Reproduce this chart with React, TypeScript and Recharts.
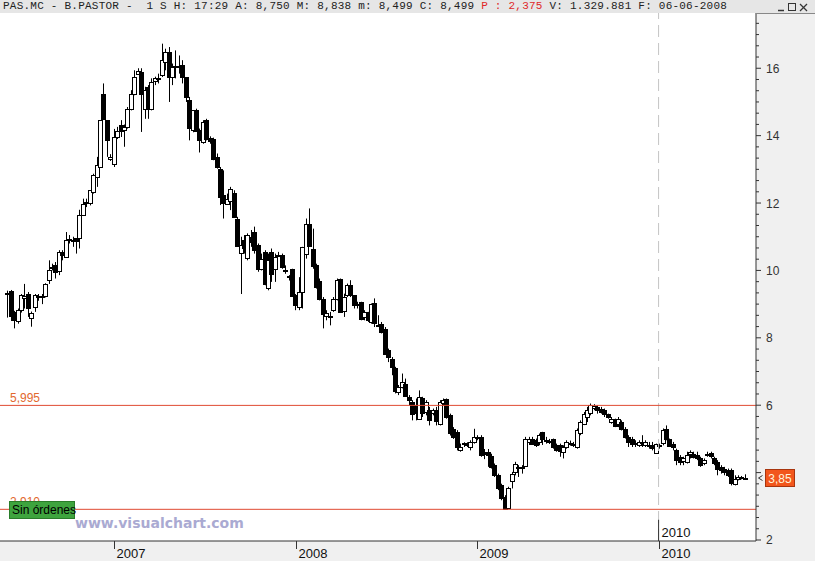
import React from 'react';
import { ComposedChart, Bar, XAxis, YAxis, ReferenceLine, CartesianGrid } from 'recharts';

// Weekly OHLC candles, PAS.MC (B. Pastor), mid-2006 .. mid-2010
const opens = [
  9.28, 9.4, 8.77, 8.52, 8.8, 9.2, 9.3, 8.6, 8.9, 9.22,
  9.25, 9.25, 9.7, 10.06, 10.15, 10.0, 10.55, 10.4, 10.88, 10.9,
  10.95, 10.95, 11.64, 12.0, 11.98, 12.33, 12.77, 13.07, 15.25, 14.46,
  13.32, 13.17, 13.96, 14.33, 14.16, 14.26, 14.8, 15.25, 15.84, 15.9,
  14.8, 15.45, 14.8, 15.6, 15.7, 15.8, 16.19, 16.49, 15.74, 16.04,
  16.06, 16.09, 15.74, 15.05, 14.16, 14.77, 14.16, 13.8, 14.46, 13.93,
  13.9, 13.37, 13.02, 12.23, 11.98, 12.08, 12.31, 11.54, 10.5, 10.9,
  10.36, 11.0, 11.14, 10.75, 10.05, 10.55, 9.46, 10.55, 10.05, 10.45,
  10.45, 10.0, 9.8, 10.05, 9.26, 8.92, 9.36, 10.5, 11.39, 10.65,
  10.15, 9.7, 9.16, 8.67, 8.62, 8.82, 9.16, 9.76, 8.77, 9.26,
  9.56, 9.26, 8.95, 9.06, 8.62, 8.77, 8.47, 9.02, 8.37, 8.42,
  8.27, 7.63, 7.38, 7.09, 6.4, 6.55, 6.62, 6.25, 6.1, 6.0,
  5.6, 6.2, 5.8, 5.85, 5.75, 5.87, 5.45, 6.05, 6.17, 5.7,
  5.3, 5.2, 4.68, 4.85, 4.86, 4.76, 4.9, 5.04, 5.06, 4.6,
  4.6, 4.5, 4.22, 3.92, 3.62, 3.28, 2.93, 3.77, 4.02, 4.15,
  4.16, 4.22, 4.92, 5.01, 4.96, 4.91, 5.21, 4.95, 4.93, 5.01,
  4.81, 4.81, 4.61, 4.76, 4.85, 4.84, 4.76, 5.16, 5.45, 5.65,
  5.75, 5.9, 5.95, 5.9, 5.87, 5.75, 5.5, 5.6, 5.45, 5.5,
  5.3, 5.06, 5.01, 4.87, 4.81, 4.9, 4.81, 4.82, 4.81, 4.6,
  4.8, 4.86, 5.3, 5.01, 4.86, 4.66, 4.47, 4.32, 4.32, 4.54,
  4.56, 4.52, 4.42, 4.27, 4.54, 4.57, 4.42, 4.32, 4.17, 4.12,
  4.07, 4.07, 3.67, 3.82, 3.86, 3.85,
];
const highs = [
  9.4, 9.42, 8.8, 8.87, 9.3, 9.6, 9.36, 8.78, 9.3, 9.3,
  9.3, 9.62, 10.3, 10.2, 10.25, 10.6, 10.6, 11.14, 11.05, 11.0,
  10.96, 11.8, 12.13, 12.13, 12.38, 12.87, 13.37, 14.46, 15.55, 14.46,
  13.45, 14.2, 14.26, 14.46, 14.33, 14.85, 15.35, 15.94, 16.0, 16.0,
  15.45, 15.5, 15.7, 15.75, 15.84, 16.73, 16.58, 16.63, 16.14, 16.53,
  16.38, 16.24, 15.74, 15.15, 14.75, 14.8, 14.21, 14.46, 14.5, 13.98,
  13.94, 13.47, 13.07, 12.97, 12.28, 12.48, 12.38, 11.59, 11.0, 11.05,
  11.1, 11.2, 11.3, 10.8, 10.5, 10.6, 10.5, 10.65, 10.5, 10.55,
  10.5, 10.15, 9.86, 10.05, 9.3, 9.8, 10.7, 11.54, 11.84, 11.24,
  10.2, 9.76, 9.21, 8.82, 8.77, 9.21, 9.76, 9.76, 9.31, 9.61,
  9.71, 9.26, 9.07, 9.07, 8.82, 8.77, 9.02, 9.17, 8.67, 8.47,
  8.32, 7.68, 7.43, 7.14, 6.6, 6.94, 6.79, 6.3, 6.15, 6.2,
  6.44, 6.25, 6.15, 5.95, 5.9, 5.95, 6.15, 6.2, 6.2, 5.75,
  5.35, 5.26, 4.86, 4.9, 4.9, 4.96, 5.3, 5.11, 5.11, 4.7,
  4.7, 4.56, 4.27, 3.97, 3.67, 3.33, 3.58, 4.02, 4.32, 4.22,
  4.22, 5.06, 5.06, 5.06, 5.01, 5.16, 5.21, 5.06, 5.0, 5.01,
  4.86, 4.86, 4.81, 4.96, 4.95, 4.91, 5.31, 5.55, 5.8, 5.95,
  6.05, 6.03, 6.0, 5.95, 5.9, 5.75, 5.65, 5.6, 5.65, 5.55,
  5.35, 5.11, 5.06, 4.96, 4.96, 5.11, 4.96, 4.91, 4.91, 4.86,
  4.86, 5.31, 5.4, 5.01, 4.91, 4.71, 4.52, 4.47, 4.62, 4.66,
  4.62, 4.62, 4.47, 4.42, 4.62, 4.62, 4.47, 4.37, 4.22, 4.17,
  4.12, 4.12, 3.92, 3.92, 3.9, 3.95,
];
const lows = [
  8.6, 8.5, 8.28, 8.42, 8.75, 8.87, 8.62, 8.33, 8.77, 9.1,
  9.0, 9.2, 9.6, 10.0, 9.76, 9.86, 10.3, 10.4, 10.8, 10.7,
  10.5, 10.65, 11.62, 11.88, 11.93, 12.28, 12.48, 13.07, 14.5, 13.37,
  13.25, 13.07, 13.9, 13.96, 13.67, 14.21, 14.75, 15.2, 15.8, 14.11,
  14.5, 14.5, 14.75, 15.5, 15.55, 15.74, 15.94, 15.0, 15.5, 15.7,
  15.84, 15.55, 15.0, 13.86, 14.1, 14.16, 13.5, 13.76, 13.86, 13.76,
  13.27, 13.02, 11.94, 11.54, 11.98, 11.79, 11.59, 10.7, 9.3, 10.5,
  10.3, 10.7, 10.5, 9.96, 10.0, 9.56, 9.41, 9.66, 9.66, 10.4,
  10.05, 9.9, 9.7, 9.26, 8.82, 8.82, 8.87, 10.35, 10.7, 10.05,
  9.46, 9.11, 8.28, 8.52, 8.37, 8.77, 9.11, 8.77, 8.62, 9.21,
  9.21, 8.87, 8.87, 8.52, 8.52, 8.47, 8.42, 8.32, 8.32, 8.13,
  7.53, 7.28, 6.89, 6.35, 6.3, 6.5, 6.25, 6.0, 5.55, 5.55,
  5.6, 5.65, 5.7, 5.4, 5.7, 5.4, 5.4, 6.0, 5.6, 5.1,
  5.0, 4.66, 4.62, 4.76, 4.76, 4.66, 4.86, 4.96, 4.47, 4.4,
  4.17, 4.12, 3.87, 3.48, 3.18, 2.93, 2.93, 3.53, 3.92, 3.87,
  3.97, 4.17, 4.82, 4.82, 4.76, 4.81, 4.82, 4.86, 4.85, 4.71,
  4.62, 4.47, 4.42, 4.71, 4.8, 4.76, 4.71, 5.11, 5.41, 5.5,
  5.7, 5.85, 5.75, 5.75, 5.65, 5.6, 5.45, 5.35, 5.35, 5.25,
  5.01, 4.76, 4.76, 4.76, 4.76, 4.76, 4.76, 4.71, 4.66, 4.6,
  4.71, 4.81, 4.96, 4.76, 4.66, 4.22, 4.22, 4.22, 4.27, 4.42,
  4.42, 4.37, 4.17, 4.22, 4.47, 4.42, 4.22, 3.92, 3.97, 3.92,
  3.87, 3.62, 3.62, 3.77, 3.8, 3.78,
];
const closes = [
  9.32, 8.67, 8.52, 8.84, 9.26, 9.25, 8.87, 8.75, 9.26, 9.25,
  9.22, 9.6, 10.0, 10.1, 9.95, 10.55, 10.45, 10.9, 10.92, 10.88,
  10.85, 11.64, 11.98, 12.03, 12.38, 12.83, 13.12, 14.46, 14.5, 13.86,
  13.38, 13.96, 14.13, 14.16, 14.26, 14.8, 15.25, 15.74, 15.92, 15.25,
  15.35, 14.8, 15.6, 15.7, 15.72, 16.24, 16.49, 15.74, 16.04, 16.06,
  16.08, 15.74, 15.15, 14.21, 14.75, 14.16, 13.86, 14.4, 13.9, 13.83,
  13.32, 13.07, 12.18, 11.98, 12.13, 12.43, 11.59, 10.75, 10.75, 10.65,
  11.04, 10.85, 10.6, 10.05, 10.35, 9.6, 10.3, 9.9, 10.4, 10.47,
  10.1, 10.02, 9.84, 9.26, 8.97, 9.36, 10.7, 11.39, 10.75, 10.15,
  9.5, 9.16, 8.72, 8.75, 8.64, 9.16, 9.73, 8.77, 9.2, 9.56,
  9.26, 8.97, 8.99, 8.57, 8.77, 8.52, 8.99, 8.42, 8.35, 8.18,
  7.53, 7.43, 7.14, 6.4, 6.55, 6.7, 6.25, 6.15, 5.75, 5.75,
  6.25, 5.75, 6.1, 5.55, 5.85, 5.55, 6.1, 6.15, 5.65, 5.16,
  5.06, 4.76, 4.76, 4.87, 4.85, 4.9, 5.06, 5.05, 4.52, 4.55,
  4.52, 4.17, 3.92, 3.53, 3.23, 2.93, 3.53, 3.97, 4.27, 4.18,
  4.18, 5.01, 5.01, 4.86, 4.81, 5.11, 5.01, 4.97, 4.95, 4.76,
  4.66, 4.62, 4.76, 4.91, 4.88, 4.84, 5.26, 5.5, 5.75, 5.85,
  6.0, 5.97, 5.85, 5.8, 5.75, 5.65, 5.6, 5.4, 5.6, 5.3,
  5.06, 4.91, 4.86, 4.88, 4.91, 4.92, 4.91, 4.81, 4.71, 4.86,
  4.82, 5.26, 5.01, 4.81, 4.76, 4.37, 4.32, 4.42, 4.52, 4.6,
  4.46, 4.42, 4.22, 4.37, 4.55, 4.47, 4.27, 4.12, 4.07, 4.02,
  3.92, 3.67, 3.82, 3.87, 3.87, 3.85,
];

// Year boundaries expressed in week-index units, and their labels
const yearTicks = [31.1, 84.0, 137.0, 189.8];
const yearLabels = ['2007', '2008', '2009', '2010'];
const currentYearMark = 189.8;

// Horizontal levels (support / resistance)
const levels = [5.995, 2.91];
const levelLabels = ['5,995', '2,910'];

const lastPrice = 3.85;
const lastPriceLabel = '3,85';

const headerLeft = 'PAS.MC - B.PASTOR -  1 S H: 17:29 A: 8,750 M: 8,838 m: 8,499 C: 8,499 ';
const headerRed = 'P : 2,375';
const headerRight = ' V: 1.329.881 F: 06-06-2008';

const Y_MIN = 1.97;
const Y_MAX = 17.64;
const X_MIN = -2.19;
const X_MAX = 218.2;

const data = opens.map((o, i) => ({
  i,
  open: o,
  high: highs[i],
  low: lows[i],
  close: closes[i],
  range: [lows[i], highs[i]],
}));

const yTicks: number[] = [];
for (let k = 0; k <= 47; k++) yTicks.push(2 + k / 3);

const Candle = (props: any) => {
  const { x, y, width, height, payload } = props;
  if (!payload || x == null || y == null) return null;
  const { open, close, high, low } = payload;
  const cx = Math.round(x + width / 2) + 0.5;
  const top = Math.min(y, y + height);
  const h = Math.abs(height);
  const ratio = high === low ? 0 : h / (high - low);
  const yO = top + (high - open) * ratio;
  const yC = top + (high - close) * ratio;
  const bTop = Math.round(Math.min(yO, yC)) + 0.5;
  const bH = Math.max(1, Math.round(Math.abs(yO - yC)));
  const up = close >= open;
  return (
    <g>
      <line x1={cx} x2={cx} y1={top} y2={top + h} stroke="#000" strokeWidth={1} />
      <rect x={cx - 2} y={bTop} width={4} height={bH} fill={up ? '#fff' : '#000'} stroke="#000" strokeWidth={1} />
    </g>
  );
};

const YTick = (props: any) => {
  const { x, y, payload } = props;
  const k = Math.round((payload.value - 2) * 3);
  const major = k % 6 === 0;
  // the last-price box sits on top of the axis label nearest to it
  const hidden = Math.abs(payload.value - lastPrice) < 0.3;
  return (
    <g>
      <line x1={x} x2={x + (major ? 5 : 3)} y1={y} y2={y} stroke="#333" strokeWidth={1} />
      {major && !hidden && (
        <text x={x + 10} y={y + 4.5} fontSize={12} fontFamily="Liberation Sans, Arial, sans-serif" fill="#333">
          {Math.round(payload.value)}
        </text>
      )}
    </g>
  );
};

const XTick = (props: any) => {
  const { x, y, payload } = props;
  const idx = yearTicks.indexOf(payload.value);
  const px = Math.round(x) + 0.5;
  return (
    <g>
      <line x1={px} x2={px} y1={y} y2={y + 8} stroke="#333" strokeWidth={1} />
      <text x={px + 2} y={y + 17} fontSize={13} fontFamily="Liberation Sans, Arial, sans-serif" fill="#111">
        {yearLabels[idx]}
      </text>
    </g>
  );
};

const levelLabel = (text: string) => (p: any) => {
  const vb = p.viewBox || {};
  return (
    <text x={(vb.x || 0) + 10} y={(vb.y || 0) - 3} fontSize={12} fontFamily="Liberation Sans, Arial, sans-serif" fill="#e2682e">
      {text}
    </text>
  );
};

const lastPriceMark = (p: any) => {
  const vb = p.viewBox || {};
  const rx = (vb.x || 0) + (vb.width || 0);
  const cy = Math.round(vb.y || 0);
  return (
    <g>
      <path d={`M ${rx + 6.5} ${cy - 2.5} L ${rx + 2.5} ${cy} L ${rx + 6.5} ${cy + 2.5}`} stroke="#333" fill="none" strokeWidth={1} />
      <rect x={rx + 9.5} y={cy - 8.5} width={29} height={17} fill="#f2561c" stroke="#a8350e" strokeWidth={1} />
      <text x={rx + 24} y={cy + 4.5} textAnchor="middle" fontSize={12} fontFamily="Liberation Sans, Arial, sans-serif" fill="#fff4dc">
        {lastPriceLabel}
      </text>
    </g>
  );
};

const yearMarkLabel = (p: any) => {
  const vb = p.viewBox || {};
  return (
    <text x={(vb.x || 0) + 3} y={(vb.y || 0) + 17} fontSize={13} fontFamily="Liberation Sans, Arial, sans-serif" fill="#111">
      {yearLabels[yearLabels.length - 1]}
    </text>
  );
};

export default function App() {
  return (
    <div style={{ position: 'absolute', left: 0, top: 0, width: 815, height: 561, background: '#f0f0f0', overflow: 'hidden' }}>
      <div
        style={{
          position: 'absolute', left: 0, top: 0, width: 815, height: 13, background: '#e6e6e6',
          fontFamily: 'Liberation Mono, monospace', fontSize: 11, lineHeight: '13px', letterSpacing: '0.23px',
          color: '#222', whiteSpace: 'pre',
        }}
      >
        <span style={{ position: 'absolute', left: 3, top: 0 }}>
          {headerLeft}
          <span style={{ color: '#e02828' }}>{headerRed}</span>
          {headerRight}
        </span>
        <svg style={{ position: 'absolute', left: 776, top: 1 }} width={36} height={11}>
          <line x1={2} x2={8} y1={9.5} y2={9.5} stroke="#333" strokeWidth={1.5} />
          <rect x={12.5} y={2.5} width={7} height={7} fill="none" stroke="#333" strokeWidth={1} />
          <line x1={24} x2={31} y1={3} y2={10} stroke="#333" strokeWidth={1.3} />
          <line x1={31} x2={24} y1={3} y2={10} stroke="#333" strokeWidth={1.3} />
        </svg>
      </div>
      <div style={{ position: 'absolute', left: 0, top: 13 }}>
        <ComposedChart width={815} height={548} data={data} margin={{ top: 0, right: 0, bottom: 0, left: 0 }}>
          <CartesianGrid fill="#ffffff" stroke="none" horizontal={false} vertical={false} />
          <XAxis
            type="number"
            dataKey="i"
            domain={[X_MIN, X_MAX]}
            allowDataOverflow
            ticks={yearTicks}
            interval={0}
            height={20}
            tickLine={false}
            tickSize={0}
            tickMargin={0}
            axisLine={{ stroke: '#333' }}
            tick={<XTick />}
          />
          <YAxis
            orientation="right"
            domain={[Y_MIN, Y_MAX]}
            allowDataOverflow
            ticks={yTicks}
            interval={0}
            width={59}
            tickLine={false}
            tickSize={0}
            tickMargin={0}
            axisLine={{ stroke: '#333' }}
            tick={<YTick />}
          />
          <ReferenceLine x={currentYearMark} stroke="#c4c4c4" strokeDasharray="12 6" />
          <ReferenceLine
            segment={[{ x: currentYearMark, y: 2.6 }, { x: currentYearMark, y: Y_MIN }]}
            stroke="#333"
            label={yearMarkLabel}
          />
          {levels.map((lv, k) => (
            <ReferenceLine key={k} y={lv} stroke="#e04a32" strokeWidth={1} label={levelLabel(levelLabels[k])} />
          ))}
          <Bar dataKey="range" barSize={5} isAnimationActive={false} shape={(p: any) => <Candle {...p} />} />
          <ReferenceLine y={lastPrice} stroke="none" label={lastPriceMark} />
        </ComposedChart>
      </div>
      <div
        style={{
          position: 'absolute', left: 9, top: 501, width: 62, height: 16, background: '#3ea43e',
          border: '1px solid #2a7d2a', fontFamily: 'Liberation Sans, Arial, sans-serif', fontSize: 12,
          lineHeight: '16px', color: '#000', paddingLeft: 2, boxSizing: 'content-box', whiteSpace: 'nowrap',
        }}
      >
        Sin órdenes
      </div>
      <div
        style={{
          position: 'absolute', left: 75, top: 515, fontFamily: 'DejaVu Sans, Verdana, sans-serif',
          fontWeight: 'bold', fontSize: 14, color: '#aaaad2', whiteSpace: 'nowrap',
        }}
      >
        www.visualchart.com
      </div>
      <div style={{ position: 'absolute', left: 756, top: 13, width: 59, height: 1, background: '#888' }} />
    </div>
  );
}
